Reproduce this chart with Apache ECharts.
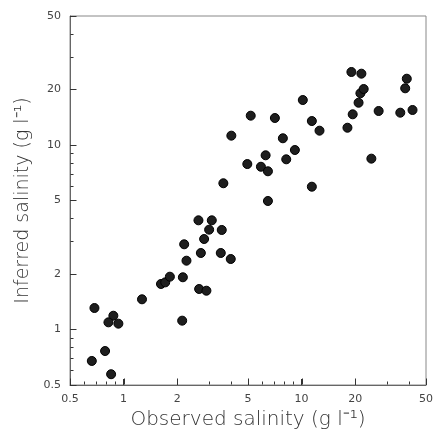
<!DOCTYPE html>
<html>
<head>
<meta charset="utf-8">
<script src="https://cdn.jsdelivr.net/npm/echarts@6/dist/echarts.min.js"></script>
<style>html,body{margin:0;padding:0;background:#fff}#c{width:436px;height:435px}</style>
</head>
<body>
<div id="c"></div>
<script>
const observed = [0.686,0.876,0.822,0.935,0.787,0.663,0.851,1.269,1.622,1.714,1.82,2.153,2.134,2.19,2.256,2.634,3.13,3.024,3.561,2.834,2.717,3.516,4.0,2.657,2.92,6.47,3.635,4.955,5.91,6.47,6.28,8.2,9.17,7.85,4.03,5.18,7.08,10.16,11.42,12.61,11.42,18.1,19.37,24.66,20.9,21.4,22.33,19.05,21.68,27.1,35.85,42.0,39.0,38.2];
const inferred = [1.307,1.187,1.093,1.075,0.764,0.675,0.572,1.457,1.764,1.80,1.932,1.918,1.116,2.895,2.359,3.904,3.904,3.474,3.461,3.092,2.597,2.597,2.409,1.657,1.622,4.97,6.2,7.88,7.62,7.2,8.79,8.36,9.39,10.87,11.23,14.41,14.0,17.52,13.48,11.95,5.94,12.4,14.66,8.43,16.94,19.06,20.1,24.86,24.34,15.28,14.96,15.47,22.86,20.28];
const majorTicks = [0.5, 1, 2, 5, 10, 20, 50];
const minorTicks = [0.6, 0.7, 0.8, 0.9, 3, 4, 6, 7, 8, 9, 30, 40];
const xTitle = 'Observed salinity (g l\u207B\u00B9)';
const yTitle = 'Inferred salinity (g l\u207B\u00B9)';
const axisMin = 0.5, axisMax = 50;

const points = observed.map((v, i) => [v, inferred[i]]);
const fmt = v => String(+v.toPrecision(3));
const labelStyle = { color: '#444', fontSize: 11, fontFamily: 'DejaVu Sans' };
const lineStyle = { color: '#666', width: 1 };

function mainAxis(isX) {
  return {
    type: 'log', logBase: 10, min: axisMin, max: axisMax,
    position: isX ? 'bottom' : 'left',
    name: isX ? xTitle : yTitle,
    nameLocation: 'middle',
    nameGap: isX ? 18 : 34,
    nameTextStyle: { color: '#333', fontSize: isX ? 20 : 19, fontFamily: 'DejaVu Sans', fontWeight: 300 },
    axisLine: { show: true, lineStyle: lineStyle },
    axisTick: { show: true, inside: true, length: 6, customValues: majorTicks, lineStyle: { color: '#333' } },
    axisLabel: Object.assign({ customValues: majorTicks, formatter: fmt, margin: 9, showMinLabel: true, showMaxLabel: true }, labelStyle),
    minorTick: { show: false },
    splitLine: { show: false }
  };
}

const chart = echarts.init(document.getElementById('c'), null, { renderer: 'canvas' });
chart.setOption({
  animation: false,
  backgroundColor: '#fff',
  grid: { left: 70, right: 8.5, top: 16, bottom: 50, show: true, borderColor: '#888', borderWidth: 1, backgroundColor: 'transparent' },
  xAxis: mainAxis(true),
  yAxis: mainAxis(false),
  series: [{
    type: 'scatter',
    data: points,
    symbol: 'circle',
    symbolSize: 9,
    z: 3,
    itemStyle: { color: '#1e1e1e', borderColor: '#000', borderWidth: 1, opacity: 1 }
  }]
});

// tick marks positioned through the chart's own log scales
try {
  const finder = { xAxisIndex: 0, yAxisIndex: 0 };
  const els = [];
  const addTicks = (values, len) => values.forEach(v => {
    const px = chart.convertToPixel(finder, [v, axisMin]);
    const py = chart.convertToPixel(finder, [axisMin, v]);
    if (px && isFinite(px[0])) {
      const x = Math.round(px[0]) + 0.5, y = Math.round(px[1]) - 0.5;
      els.push({ type: 'line', silent: true, z: 50, shape: { x1: x, y1: y, x2: x, y2: y - len }, style: { stroke: '#333', lineWidth: 1 } });
    }
    if (py && isFinite(py[1])) {
      const x = Math.round(py[0]) + 0.5, y = Math.round(py[1]) + 0.5;
      els.push({ type: 'line', silent: true, z: 50, shape: { x1: x, y1: y, x2: x + len, y2: y }, style: { stroke: '#333', lineWidth: 1 } });
    }
  });
  addTicks(majorTicks, 6);
  addTicks(minorTicks, 3);
  chart.setOption({ graphic: { elements: els } });
} catch (e) { /* keep chart without extra ticks */ }
</script>
</body>
</html>
